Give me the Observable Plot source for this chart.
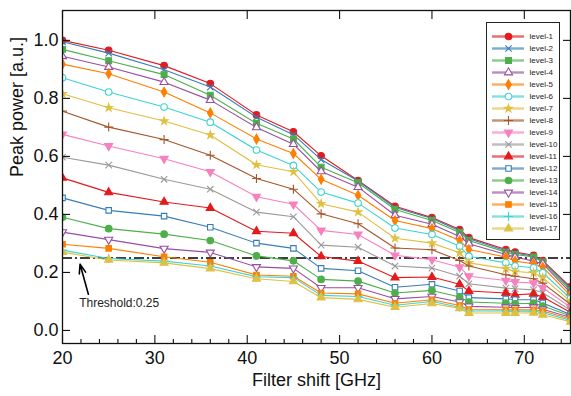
<!DOCTYPE html>
<html><head><meta charset="utf-8">
<script src="https://cdn.jsdelivr.net/npm/d3@7"></script>
<script src="https://cdn.jsdelivr.net/npm/@observablehq/plot@0.6"></script>
<style>
body{margin:0;background:#fff;}
#wrap{position:relative;width:571px;height:396px;font-family:"Liberation Sans",Arial,sans-serif;}
#legend{position:absolute;left:486px;top:22px;width:72px;height:216px;border:1px solid #222;background:#fff;}
#legend svg{display:block;}
</style></head><body><div id="wrap"><div id="chart"></div><div id="legend"></div></div>
<script>
const shifts = [20,25,31,36,41,45,48,52,56,60,63,64,68,69,71,72,75];
const level1  = [1.000,0.966,0.913,0.851,0.743,0.685,0.602,0.517,0.428,0.389,0.348,0.320,0.279,0.270,0.259,0.241,0.150];
const level2  = [0.995,0.956,0.899,0.839,0.735,0.675,0.589,0.515,0.424,0.386,0.344,0.316,0.275,0.267,0.256,0.238,0.145];
const level3  = [0.969,0.930,0.882,0.811,0.714,0.660,0.563,0.509,0.417,0.379,0.338,0.310,0.270,0.262,0.253,0.236,0.138];
const level4  = [0.945,0.908,0.856,0.794,0.700,0.642,0.548,0.494,0.397,0.366,0.324,0.299,0.262,0.253,0.239,0.230,0.130];
const level5  = [0.918,0.885,0.822,0.750,0.660,0.610,0.521,0.466,0.379,0.351,0.310,0.279,0.253,0.239,0.230,0.218,0.120];
const level6  = [0.871,0.822,0.770,0.718,0.622,0.569,0.477,0.439,0.353,0.331,0.290,0.256,0.233,0.222,0.216,0.199,0.110];
const level7  = [0.816,0.768,0.722,0.674,0.571,0.547,0.437,0.408,0.318,0.301,0.268,0.233,0.213,0.203,0.199,0.182,0.100];
const level8  = [0.756,0.701,0.658,0.604,0.524,0.487,0.402,0.368,0.284,0.278,0.241,0.222,0.192,0.187,0.178,0.163,0.090];
const level9  = [0.676,0.636,0.592,0.547,0.461,0.435,0.345,0.331,0.259,0.244,0.218,0.187,0.172,0.167,0.163,0.147,0.080];
const level10 = [0.597,0.570,0.521,0.487,0.408,0.392,0.294,0.287,0.222,0.215,0.187,0.161,0.146,0.144,0.140,0.130,0.070];
const level11 = [0.526,0.476,0.443,0.422,0.342,0.335,0.255,0.239,0.182,0.184,0.159,0.136,0.129,0.123,0.126,0.115,0.062];
const level12 = [0.457,0.414,0.394,0.356,0.301,0.283,0.214,0.206,0.149,0.159,0.136,0.113,0.109,0.106,0.106,0.095,0.055];
const level13 = [0.390,0.351,0.332,0.310,0.257,0.240,0.176,0.170,0.129,0.138,0.115,0.098,0.094,0.092,0.094,0.084,0.050];
const level14 = [0.339,0.313,0.282,0.269,0.219,0.214,0.147,0.147,0.109,0.117,0.098,0.083,0.080,0.078,0.080,0.073,0.045];
const level15 = [0.297,0.283,0.254,0.235,0.191,0.187,0.129,0.126,0.094,0.106,0.086,0.072,0.071,0.071,0.071,0.067,0.040];
const level16 = [0.277,0.248,0.239,0.222,0.185,0.182,0.121,0.117,0.087,0.100,0.080,0.067,0.067,0.066,0.067,0.061,0.035];
const level17 = [0.270,0.243,0.233,0.213,0.178,0.169,0.113,0.107,0.080,0.093,0.076,0.060,0.060,0.060,0.061,0.054,0.030];
const seriesValues = [level1,level2,level3,level4,level5,level6,level7,level8,level9,level10,level11,level12,level13,level14,level15,level16,level17];
const levelNames = ["level-1","level-2","level-3","level-4","level-5","level-6","level-7","level-8","level-9","level-10","level-11","level-12","level-13","level-14","level-15","level-16","level-17"];
const threshold = 0.25;
const thresholdLabel = ["Threshold:0.25"];
const arrowFrom = [22.8, 0.125];
const arrowTo = [21.9, 0.228];
const labelAt = [21.8, 0.093];
const xMajorTicks = [20,30,40,50,60,70];
const xMinorTicks = [22,24,26,28,32,34,36,38,42,44,46,48,52,54,56,58,62,64,66,68,72,74];
const yTicks = [0.0,0.2,0.4,0.6,0.8,1.0];
const xTitle = "Filter shift [GHz]";
const yTitle = "Peak power [a.u.]";

// styles
const RED="#e41a1c", BLUE="#377eb8", GREEN="#4daf4a", PURPLE="#984ea3", ORANGE="#ff7f00",
      CYAN="#3fd3d3", GOLD="#dfc043", BROWN="#a65628", PINK="#f781bf", GRAY="#9a9a9a";
const styles = [
  {c:RED, s:"circle", f:"fill", r:3.3},
  {c:BLUE, s:"times", f:"line", r:3.0},
  {c:GREEN, s:"square", f:"fill", r:3.3},
  {c:PURPLE, s:"triangle", f:"open", r:3.0},
  {c:ORANGE, s:"diamond", f:"fill", r:2.9},
  {c:CYAN, s:"circle", f:"open", r:3.3},
  {c:GOLD, s:"star", f:"fill", r:2.4},
  {c:BROWN, s:"plus", f:"line", r:3.0},
  {c:PINK, s:"triangle", f:"fill", rot:180, r:3.0},
  {c:GRAY, s:"times", f:"line", r:3.0},
  {c:RED, s:"triangle", f:"fill", r:3.0},
  {c:BLUE, s:"square", f:"open", r:3.1},
  {c:GREEN, s:"circle", f:"fill", r:3.3},
  {c:PURPLE, s:"triangle", f:"open", rot:180, r:3.0},
  {c:ORANGE, s:"square", f:"fill", r:3.1},
  {c:CYAN, s:"plus", f:"line", r:3.0},
  {c:GOLD, s:"triangle", f:"fill", r:3.0}
];
function dotOpts(st, extra) {
  const o = {symbol: st.s, r: st.r, stroke: st.c, strokeWidth: 1.1, rotate: st.rot || 0};
  if (st.f === "fill") o.fill = st.c;
  else if (st.f === "open") o.fill = "white";
  else o.fill = "none";
  return Object.assign(o, extra);
}

const marks = [];
marks.push(Plot.ruleY([threshold], {stroke: "black", strokeWidth: 1.6, strokeDasharray: "10,3,2,3"}));
seriesValues.forEach((vals, i) => {
  const data = shifts.map((x, j) => ({shift: x, power: vals[j], level: levelNames[i]}));
  marks.push(Plot.line(data, {x: "shift", y: "power", stroke: styles[i].c, strokeWidth: 1.1, clip: true}));
  marks.push(Plot.dot(data, dotOpts(styles[i], {x: "shift", y: "power", clip: true})));
});
marks.push(Plot.arrow([{a: arrowFrom, b: arrowTo}], {x1: d => d.a[0], y1: d => d.a[1], x2: d => d.b[0], y2: d => d.b[1], stroke: "black", strokeWidth: 1.6, headLength: 9, headAngle: 40}));
marks.push(Plot.text(thresholdLabel, {x: () => labelAt[0], y: () => labelAt[1], text: d => d, textAnchor: "start", fontSize: 12, fill: "#222"}));
marks.push(Plot.frame({stroke: "#111", strokeWidth: 1.3}));
marks.push(Plot.axisX(xMinorTicks, {anchor: "bottom", tickSize: -4, tickFormat: () => "", label: null, strokeWidth: 1.1}));
marks.push(Plot.axisX(xMajorTicks, {anchor: "bottom", tickSize: -8, tickPadding: 16, tickFormat: d => String(d), fontSize: 18, label: null, strokeWidth: 1.1}));
marks.push(Plot.axisX(xMajorTicks, {anchor: "top", tickSize: -8, tickFormat: () => "", label: null, strokeWidth: 1.1}));
marks.push(Plot.axisY(yTicks, {anchor: "left", tickSize: -8, tickPadding: 12, tickFormat: d3.format(".1f"), fontSize: 18, label: null, strokeWidth: 1.1}));
marks.push(Plot.axisY(yTicks, {anchor: "right", tickSize: -8, tickFormat: () => "", label: null, strokeWidth: 1.1}));
marks.push(Plot.text([xTitle], {text: d => d, frameAnchor: "bottom", dy: 42, fontSize: 18, fill: "#111"}));
marks.push(Plot.text([yTitle], {text: d => d, frameAnchor: "left", dx: -45, rotate: -90, fontSize: 18, fill: "#111"}));

const chart = Plot.plot({
  width: 571, height: 396,
  marginLeft: 62, marginRight: 1, marginTop: 10, marginBottom: 53,
  x: {domain: [20, 75]},
  y: {domain: [-0.045, 1.103]},
  style: {fontFamily: "'Liberation Sans', Arial, sans-serif", fontSize: "18px", color: "#111", background: "white"},
  marks
});
document.getElementById("chart").appendChild(chart);

// legend
const legendMarks = [];
levelNames.forEach((name, i) => {
  legendMarks.push(Plot.ruleY([name], {y: d => d, stroke: styles[i].c, strokeWidth: 2.4, strokeOpacity: 0.65, insetLeft: 5, insetRight: 35}));
  legendMarks.push(Plot.dot([name], dotOpts(styles[i], {y: d => d, frameAnchor: "left", dx: 21})));
});
legendMarks.push(Plot.text(levelNames, {y: d => d, text: d => d, frameAnchor: "left", dx: 42, textAnchor: "start", fontSize: 8, fill: "#222"}));
const legend = Plot.plot({
  width: 72, height: 216,
  marginLeft: 0, marginRight: 0, marginTop: 9, marginBottom: 8,
  x: {domain: [0, 1], axis: null},
  y: {type: "point", domain: levelNames, padding: 0, axis: null},
  style: {fontFamily: "'Liberation Sans', Arial, sans-serif", background: "white"},
  marks: legendMarks
});
document.getElementById("legend").appendChild(legend);
</script>
</body></html>
